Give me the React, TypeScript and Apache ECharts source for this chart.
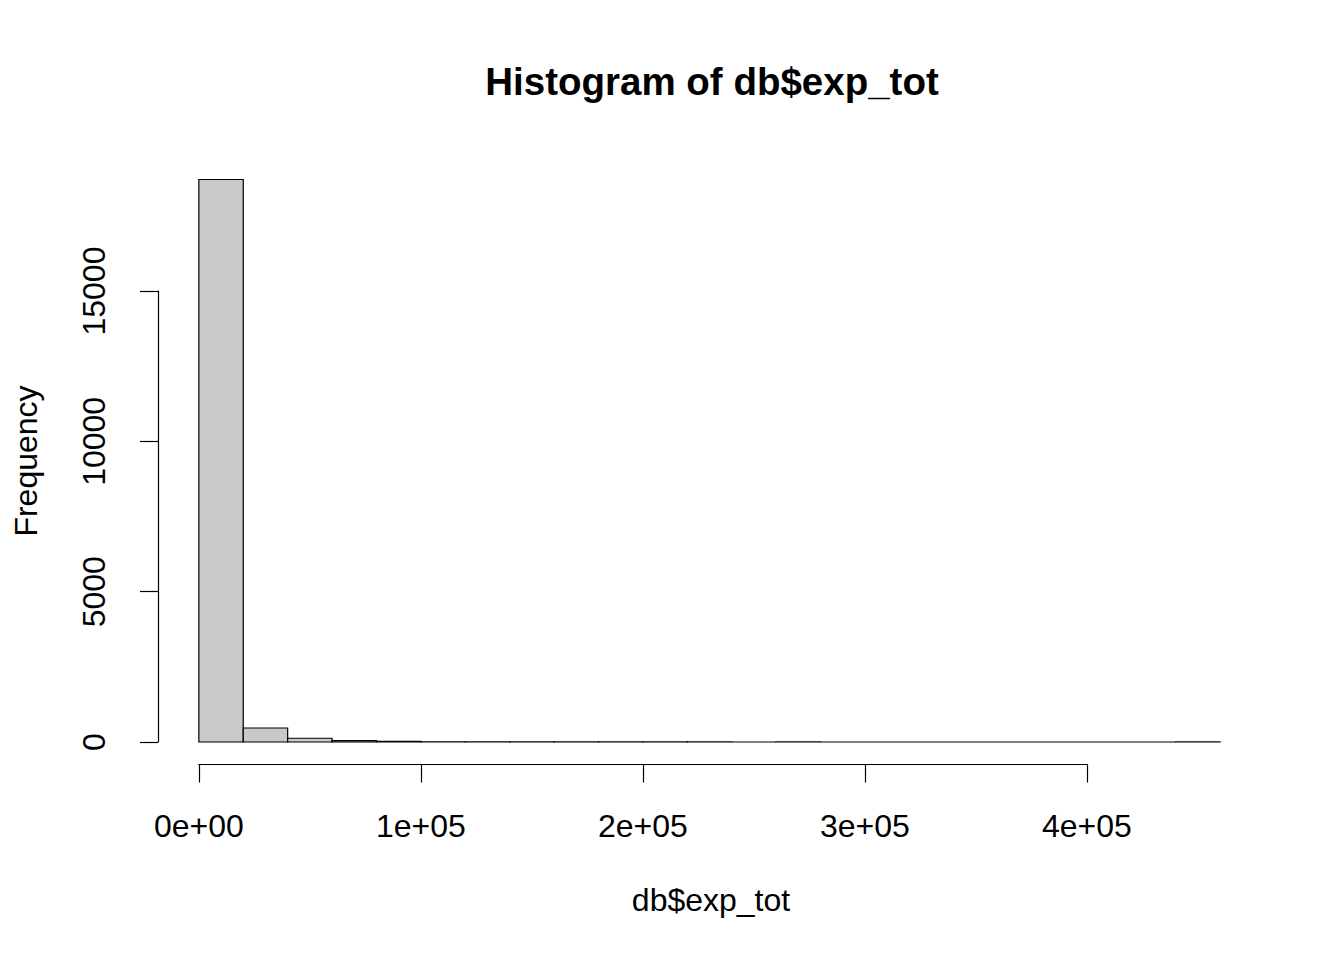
import React, { useEffect, useRef } from "react";
import * as echarts from "echarts";

// Histogram bins (db$exp_tot), width 20000
const binStarts = [
  0, 20000, 40000, 60000, 80000, 100000, 120000, 140000, 160000, 180000, 200000, 220000,
  240000, 260000, 280000, 300000, 320000, 340000, 360000, 380000, 400000, 420000, 440000,
];
const binWidth = 20000;
const counts = [18710, 465, 125, 48, 18, 8, 5, 3, 2, 1, 1, 1, 0, 1, 0, 0, 0, 0, 0, 0, 0, 0, 1];

const xTicks = [0, 100000, 200000, 300000, 400000];
const yTicks = [0, 5000, 10000, 15000];

const titleText = "Histogram of db$exp_tot";
const xLabel = "db$exp_tot";
const yLabel = "Frequency";

const FONT = '"Liberation Sans", Arial, Helvetica, sans-serif';

function sci(v: number): string {
  if (v === 0) return "0e+00";
  const e = Math.floor(Math.log10(Math.abs(v)));
  const m = v / Math.pow(10, e);
  return `${m}e+${String(e).padStart(2, "0")}`;
}

export default function App() {
  const ref = useRef<HTMLDivElement>(null);

  useEffect(() => {
    document.body.style.margin = "0";
    if (!ref.current) return;
    const chart = echarts.init(ref.current, undefined, { renderer: "svg" });

    const xMaxData = binStarts[binStarts.length - 1] + binWidth;
    const xPad = xMaxData * 0.04;
    const yMaxData = Math.max(...counts);
    const yPad = yMaxData * 0.04;

    const data = binStarts.map((s, i) => [s, s + binWidth, counts[i]]);

    const W = 1344;
    const plotLeft = 158;
    const plotRight = 1261;
    const plotTop = 157;
    const plotBottom = 764.5;
    const pxPerX = (plotRight - plotLeft) / (xMaxData + 2 * xPad);
    const pxPerY = (plotBottom - plotTop) / (yMaxData + 2 * yPad);
    const x0px = plotLeft + xPad * pxPerX;
    const xAxisRightPx = x0px + xTicks[xTicks.length - 1] * pxPerX;
    const y0px = plotBottom - yPad * pxPerY;
    const yAxisTopPx = y0px - yTicks[yTicks.length - 1] * pxPerY;

    chart.setOption({
      animation: false,
      backgroundColor: "#ffffff",
      grid: [
        { left: plotLeft, right: W - plotRight, top: plotTop, bottom: 960 - plotBottom },
        { left: x0px, right: W - xAxisRightPx, top: plotTop, bottom: 960 - plotBottom },
        { left: plotLeft, width: 100, top: yAxisTopPx, bottom: 960 - y0px },
      ],
      xAxis: [
        { gridIndex: 0, type: "value", min: -xPad, max: xMaxData + xPad, show: false },
        {
          gridIndex: 1,
          type: "value",
          min: 0,
          max: xTicks[xTicks.length - 1],
          interval: xTicks[1] - xTicks[0],
          position: "bottom",
          splitLine: { show: false },
          axisLine: { show: true, lineStyle: { color: "#000", width: 1.2 } },
          axisTick: { show: true, inside: false, length: 18, lineStyle: { color: "#000", width: 1.2 } },
          axisLabel: {
            formatter: (v: number) => sci(v),
            color: "#000",
            fontFamily: FONT,
            fontSize: 32,
            margin: 45,
          },
        },
        { gridIndex: 2, type: "value", show: false },
      ],
      yAxis: [
        { gridIndex: 0, type: "value", min: -yPad, max: yMaxData + yPad, show: false },
        { gridIndex: 1, type: "value", show: false },
        {
          gridIndex: 2,
          type: "value",
          min: 0,
          max: yTicks[yTicks.length - 1],
          interval: yTicks[1] - yTicks[0],
          position: "left",
          splitLine: { show: false },
          axisLine: { show: true, lineStyle: { color: "#000", width: 1.2 } },
          axisTick: { show: true, inside: false, length: 18, lineStyle: { color: "#000", width: 1.2 } },
          axisLabel: {
            rotate: 90,
            color: "#000",
            fontFamily: FONT,
            fontSize: 32,
            margin: 48,
            formatter: (v: number) => String(v),
          },
        },
      ],
      graphic: [
        {
          type: "text",
          x: 712,
          y: 81,
          style: {
            text: titleText,
            fill: "#000",
            font: `bold 38.5px ${FONT}`,
            textAlign: "center",
            textVerticalAlign: "middle",
          },
        },
        {
          type: "text",
          x: 711,
          y: 900,
          style: {
            text: xLabel,
            fill: "#000",
            font: `32px ${FONT}`,
            textAlign: "center",
            textVerticalAlign: "middle",
          },
        },
        {
          type: "text",
          x: 26,
          y: 461,
          rotation: Math.PI / 2,
          style: {
            text: yLabel,
            fill: "#000",
            font: `32px ${FONT}`,
            textAlign: "center",
            textVerticalAlign: "middle",
          },
        },
      ],
      series: [
        {
          type: "custom",
          xAxisIndex: 0,
          yAxisIndex: 0,
          encode: { x: [0, 1], y: 2 },
          data,
          renderItem: (_params: any, api: any) => {
            const pTop = api.coord([api.value(0), api.value(2)]);
            const pBot = api.coord([api.value(1), 0]);
            return {
              type: "rect",
              shape: {
                x: pTop[0],
                y: pTop[1],
                width: pBot[0] - pTop[0],
                height: pBot[1] - pTop[1],
              },
              style: { fill: "#c9c9c9", stroke: "#000", lineWidth: 1.2 },
            };
          },
        },
      ],
    });

    return () => chart.dispose();
  }, []);

  return <div ref={ref} style={{ width: 1344, height: 960 }} />;
}
